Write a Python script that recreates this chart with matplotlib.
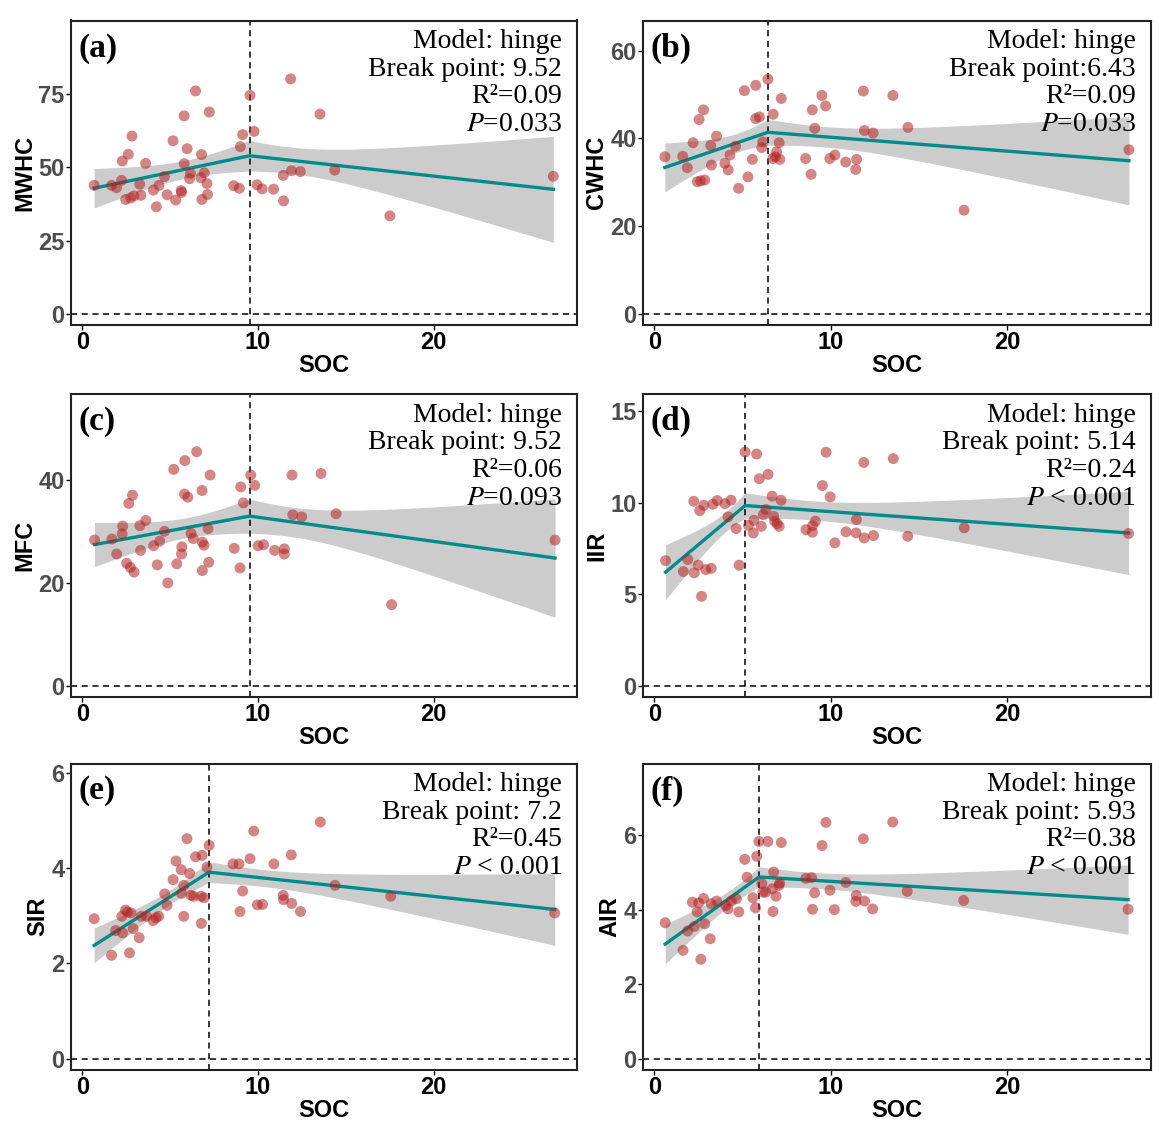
import numpy as np
import matplotlib
matplotlib.use("Agg")
import matplotlib.pyplot as plt

# ---------------- data ----------------
soc_a = [0.67, 1.66, 1.94, 2.23, 2.27, 2.61, 2.46, 2.74, 2.82, 2.93, 3.26, 3.33, 3.60, 4.04, 4.21, 4.36,
         4.67, 4.82, 5.16, 5.31, 5.62, 5.64, 5.79, 5.79, 5.96, 6.10, 6.15, 6.44, 6.74, 6.78, 6.80, 6.93,
         7.09, 7.12, 7.22, 8.61, 8.93, 8.99, 9.12, 9.54, 9.77, 9.94, 10.23, 10.88, 11.43, 11.45, 11.85,
         11.90, 12.40, 13.52, 14.36, 17.50, 26.80]
mwhc = [43.8, 43.8, 43.0, 45.5, 52.1, 54.4, 39.0, 39.5, 60.6, 40.2, 44.2, 40.4, 51.3, 42.2, 36.5, 43.8,
        46.8, 40.6, 59.0, 38.8, 42.0, 41.4, 67.5, 51.2, 56.3, 46.1, 47.9, 76.0, 46.4, 54.3, 39.0, 48.1,
        44.4, 40.7, 68.8, 43.7, 42.8, 57.0, 61.1, 74.5, 62.2, 44.0, 42.6, 42.5, 47.2, 38.5, 80.1,
        48.8, 48.5, 68.1, 49.0, 33.4, 46.9]

soc_b = [0.59, 1.60, 1.86, 2.19, 2.53, 2.43, 2.62, 2.85, 2.78, 3.19, 3.23, 3.52, 3.99, 4.18, 4.28, 4.60,
         4.77, 5.10, 5.30, 5.55, 5.74, 5.74, 5.95, 6.08, 6.14, 6.43, 6.73, 6.71, 6.86, 6.92, 7.07, 7.11,
         7.19, 8.57, 8.88, 8.95, 9.09, 9.49, 9.70, 9.94, 10.23, 10.84, 11.41, 11.46, 11.84, 11.90, 12.40,
         13.52, 14.37, 17.55, 26.90]
cwhc = [35.8, 35.9, 33.3, 39.0, 44.3, 30.1, 30.3, 30.5, 46.5, 38.4, 33.9, 40.5, 34.3, 32.8, 36.2, 38.2,
        28.6, 50.9, 31.2, 35.2, 52.1, 44.5, 44.9, 37.9, 39.2, 53.5, 45.5, 35.4, 35.8, 36.9, 39.0, 35.2,
        49.1, 35.4, 31.8, 46.5, 42.3, 49.8, 47.4, 35.4, 36.2, 34.6, 32.9, 35.2, 50.8, 41.8, 41.2,
        49.8, 42.5, 23.6, 37.4]

soc_c = [0.69, 1.68, 1.95, 2.29, 2.26, 2.64, 2.85, 2.52, 2.73, 2.94, 3.27, 3.31, 3.61, 4.05, 4.26, 4.40,
         4.67, 4.86, 5.20, 5.37, 5.66, 5.64, 5.83, 5.81, 6.00, 6.18, 6.31, 6.50, 6.81, 6.83, 6.92, 6.83,
         7.15, 7.19, 7.27, 8.64, 8.97, 9.01, 9.16, 9.58, 9.81, 10.00, 10.31, 10.94, 11.49, 11.49, 11.93,
         11.97, 12.48, 13.58, 14.44, 17.60, 26.90]
mfc = [28.3, 28.5, 25.6, 31.0, 29.5, 35.4, 37.0, 23.8, 23.0, 22.1, 31.1, 26.3, 32.1, 27.2, 23.5, 28.1,
       30.0, 20.0, 42.0, 23.7, 27.0, 25.6, 43.7, 37.2, 36.6, 29.6, 28.6, 45.4, 37.9, 27.9, 27.3, 22.4,
       30.5, 24.0, 40.9, 26.7, 22.9, 38.6, 35.5, 40.9, 38.9, 27.2, 27.4, 26.3, 26.6, 25.6, 40.9,
       33.2, 32.8, 41.2, 33.4, 15.8, 28.3]

soc_d = [0.63, 1.64, 1.89, 2.23, 2.25, 2.48, 2.57, 2.67, 2.80, 2.91, 3.22, 3.31, 3.56, 4.00, 4.17, 4.34,
         4.63, 4.80, 5.14, 5.33, 5.60, 5.64, 5.79, 5.94, 6.06, 6.17, 6.32, 6.44, 6.67, 6.76, 6.82, 6.95,
         7.07, 7.18, 8.59, 8.95, 8.97, 9.12, 9.52, 9.73, 9.96, 10.23, 10.86, 11.43, 11.45, 11.87, 11.89,
         12.42, 13.54, 14.36, 17.56, 26.88]
iir = [6.83, 6.23, 6.89, 10.07, 6.16, 6.58, 9.56, 4.88, 9.85, 6.34, 6.41, 9.91, 10.11, 9.94, 9.22, 10.13,
       8.58, 6.58, 12.76, 8.76, 8.34, 9.03, 12.65, 11.30, 8.70, 9.34, 9.62, 11.54, 10.35, 9.25, 8.98, 8.85,
       8.70, 10.13, 8.52, 8.38, 8.74, 8.98, 10.93, 12.75, 10.31, 7.80, 8.40, 8.34, 9.07, 12.19, 8.07,
       8.20, 12.40, 8.16, 8.62, 8.31]

soc_e = [0.67, 1.66, 1.89, 2.24, 2.29, 2.45, 2.56, 2.68, 2.77, 2.89, 3.23, 3.35, 3.65, 4.03, 4.19, 4.34,
         4.68, 4.82, 5.16, 5.33, 5.62, 5.64, 5.77, 5.77, 5.95, 6.10, 6.18, 6.33, 6.44, 6.75, 6.77, 6.81,
         6.92, 7.09, 7.21, 8.57, 8.91, 8.97, 9.12, 9.54, 9.75, 9.96, 10.25, 10.90, 11.43, 11.45, 11.89,
         11.91, 12.41, 13.54, 14.38, 17.55, 26.88]
sir = [2.94, 2.17, 2.69, 2.99, 2.64, 3.12, 3.08, 2.22, 3.06, 2.73, 2.54, 2.99, 2.99, 2.90, 2.96, 2.99,
       3.46, 3.22, 3.76, 4.15, 3.97, 3.47, 2.99, 3.64, 4.62, 3.89, 3.43, 3.41, 4.24, 3.41, 2.84, 4.27,
       3.38, 4.02, 4.48, 4.09, 4.09, 3.09, 3.52, 4.20, 4.78, 3.23, 3.24, 4.09, 3.43, 3.34, 4.28,
       3.26, 3.09, 4.97, 3.64, 3.41, 3.06]

soc_f = [0.61, 1.62, 1.88, 2.15, 2.26, 2.42, 2.51, 2.63, 2.78, 2.85, 3.16, 3.22, 3.52, 4.05, 4.17, 4.36,
         4.64, 4.78, 5.12, 5.25, 5.58, 5.73, 5.80, 5.92, 6.09, 6.15, 6.30, 6.43, 6.68, 6.72, 6.76, 6.89,
         7.06, 7.10, 7.19, 8.58, 8.91, 8.96, 9.08, 9.50, 9.72, 9.95, 10.20, 10.85, 11.42, 11.44, 11.84,
         11.91, 12.37, 13.51, 14.33, 17.53, 26.85]
air = [3.65, 2.91, 3.43, 4.20, 3.55, 3.94, 4.18, 2.67, 4.30, 3.62, 3.22, 4.16, 4.23, 4.11, 4.02, 4.23,
       4.29, 3.94, 5.35, 4.87, 4.32, 4.05, 5.43, 5.83, 4.70, 4.47, 4.47, 5.83, 4.56, 3.95, 5.01, 4.36,
       4.65, 4.71, 5.80, 4.84, 4.86, 4.01, 4.45, 5.72, 6.34, 4.52, 4.00, 4.73, 4.22, 4.38, 5.90,
       4.23, 4.02, 6.35, 4.49, 4.25, 4.01]

labels = ["(a)", "(b)", "(c)", "(d)", "(e)", "(f)"]
ylabels = ["MWHC", "CWHC", "MFC", "IIR", "SIR", "AIR"]
break_points = [9.52, 6.43, 9.52, 5.14, 7.2, 5.93]
bp_text = ["Break point: 9.52", "Break point:6.43", "Break point: 9.52",
           "Break point: 5.14", "Break point: 7.2", "Break point: 5.93"]
r2_text = ["R\u00b2=0.09", "R\u00b2=0.09", "R\u00b2=0.06", "R\u00b2=0.24", "R\u00b2=0.45", "R\u00b2=0.38"]
p_text = ["=0.033", "=0.033", "=0.093", " < 0.001", " < 0.001", " < 0.001"]
yticks = [[0, 25, 50, 75], [0, 20, 40, 60], [0, 20, 40], [0, 5, 10, 15], [0, 2, 4, 6], [0, 2, 4, 6]]
ylims = [(-3.8, 100.0), (-2.6, 66.9), (-2.1, 56.6), (-0.62, 15.93), (-0.24, 6.2), (-0.30, 7.92)]
xs = [soc_a, soc_b, soc_c, soc_d, soc_e, soc_f]
ys = [mwhc, cwhc, mfc, iir, sir, air]

sans = "Liberation Sans"
serif = "Liberation Serif"

# ---------------- figure ----------------
fig = plt.figure(figsize=(11.59, 11.33), dpi=100)
W, H = 1159, 1133
lefts = [71, 643]
rights = [577, 1151]
tops = [20.5, 394, 763.5]
bottoms = [325, 697, 1070]

def hinge_design(x, bp):
    x = np.asarray(x, float)
    return np.column_stack([np.ones_like(x), x, np.maximum(x - bp, 0)])

for i in range(6):
    r, c = divmod(i, 2)
    axh = bottoms[r] - tops[r]
    ax = fig.add_axes([lefts[c] / W, 1 - bottoms[r] / H,
                       (rights[c] - lefts[c]) / W, axh / H])
    x = np.asarray(xs[i], float)
    y = np.asarray(ys[i], float)
    bp = break_points[i]
    X = hinge_design(x, bp)
    beta, *_ = np.linalg.lstsq(X, y, rcond=None)
    resid = y - X @ beta
    n = len(y)
    s2 = resid @ resid / (n - 3)
    XtXi = np.linalg.inv(X.T @ X)
    xg = np.linspace(x.min(), x.max(), 300)
    xg = np.sort(np.append(xg, bp))
    Xg = hinge_design(xg, bp)
    yg = Xg @ beta
    se = np.sqrt(np.einsum("ij,jk,ik->i", Xg, XtXi, Xg) * s2)
    tq = 2.01
    ax.fill_between(xg, yg - tq * se, yg + tq * se, color="#cccccc", lw=0, zorder=1)
    ax.axvline(bp, color="black", ls=(0, (4, 3)), lw=1.1, zorder=2)
    ax.axhline(0, color="black", ls=(0, (4, 3)), lw=1.1, zorder=2)
    ax.plot(xg, yg, color="#008B8B", lw=2.4, zorder=3)
    ax.scatter(x, y, s=62, color="#B22222", alpha=0.55, edgecolors="none", zorder=4)

    ax.set_xlim(-0.65, 28.15)
    ax.set_ylim(*ylims[i])
    ax.set_xticks([0, 10, 20])
    ax.set_yticks(yticks[i])
    ax.tick_params(axis="both", direction="out", length=3.6, width=1.0, colors="black", pad=1)
    for lab in ax.get_xticklabels():
        lab.set_fontfamily(sans); lab.set_fontweight("bold"); lab.set_fontsize(17); lab.set_color("black")
    for lab in ax.get_yticklabels():
        lab.set_fontfamily(sans); lab.set_fontweight("bold"); lab.set_fontsize(17); lab.set_color("#4d4d4d")
    for sp in ax.spines.values():
        sp.set_linewidth(1.5)
        sp.set_color("#222222")
    ax.set_xlabel("SOC", fontfamily=sans, fontweight="bold", fontsize=17, labelpad=0)
    ax.set_ylabel(ylabels[i], fontfamily=sans, fontweight="bold", fontsize=17, labelpad=1.5)

    ax.text(0.014, 1 - 12 / axh, labels[i], transform=ax.transAxes, ha="left", va="top",
            fontfamily=serif, fontweight="bold", fontsize=24)
    lines = ["Model: hinge", bp_text[i], r2_text[i], r"$\mathit{P}$" + p_text[i]]
    for k, t in enumerate(lines):
        ax.text(0.97, 1 - (27.5 + 27.7 * k) / axh, t, transform=ax.transAxes,
                ha="right", va="baseline", fontfamily=serif, fontsize=20,
                math_fontfamily="stix")

fig.savefig("out.png", dpi=100)
